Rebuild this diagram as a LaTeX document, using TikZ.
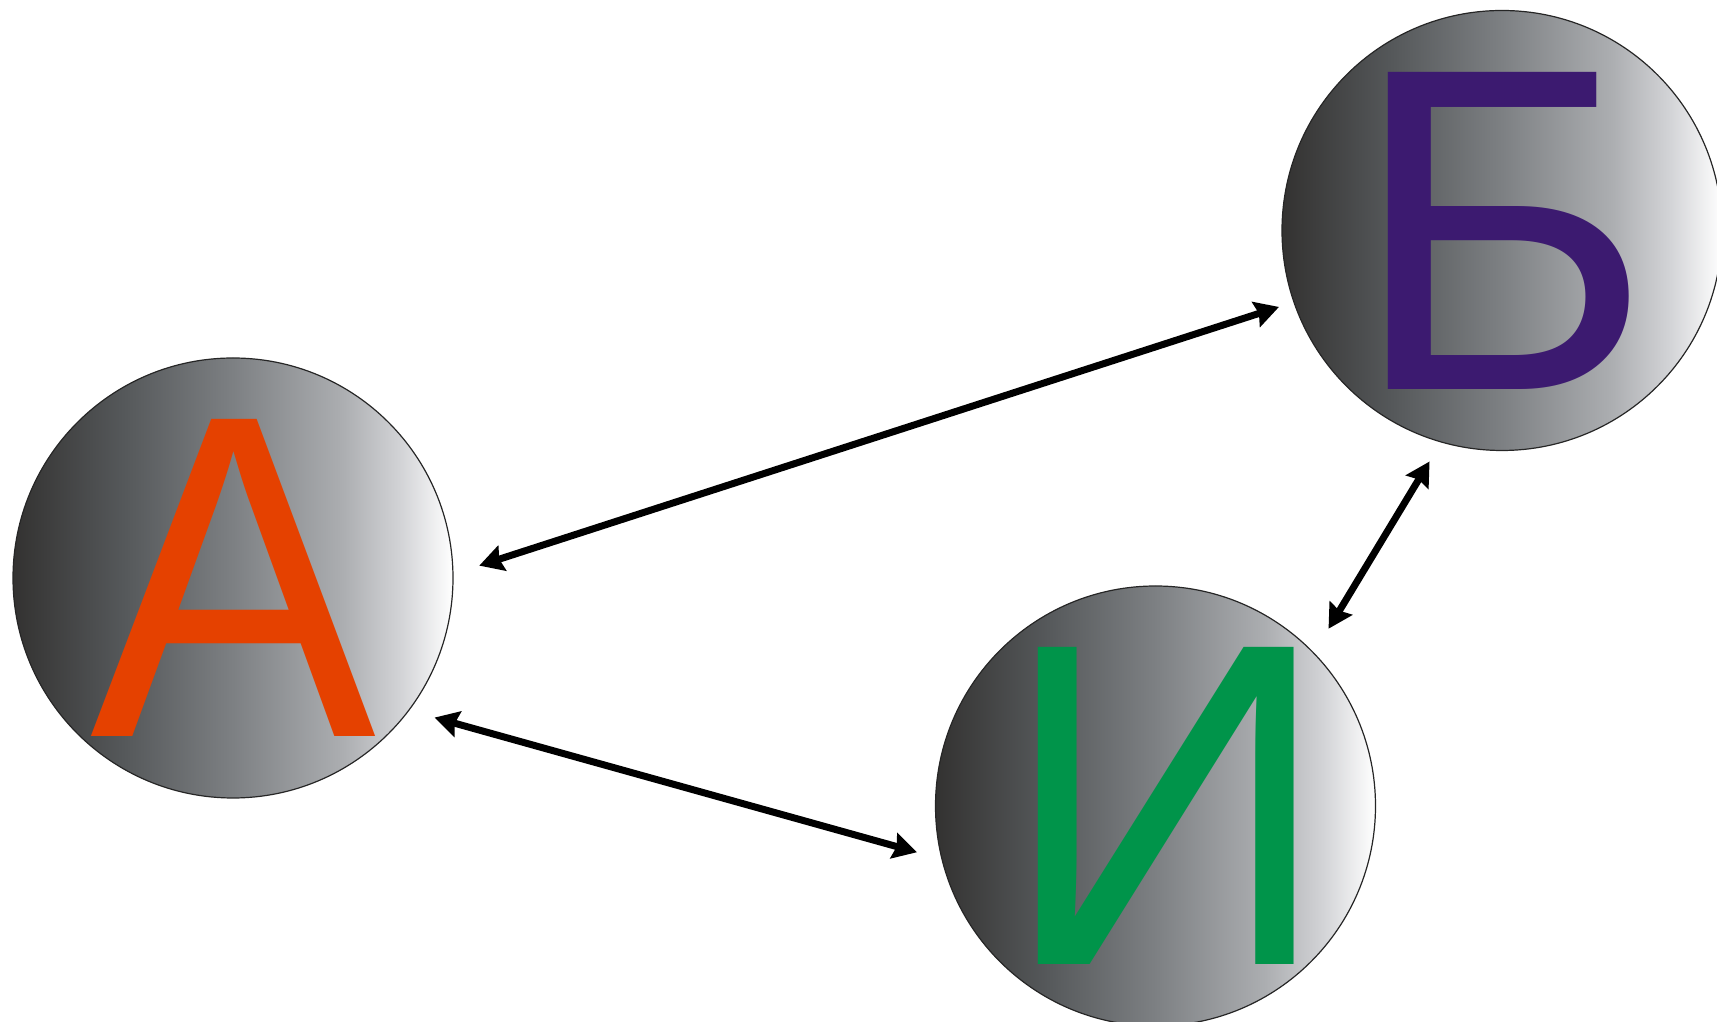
\documentclass[tikz,border=0pt]{standalone}
\usepackage{fontspec}
\setmainfont{Liberation Sans}
\usetikzlibrary{arrows.meta}
\definecolor{g0}{HTML}{333231}
\definecolor{g1}{HTML}{55585A}
\definecolor{g2}{HTML}{7D8083}
\definecolor{g3}{HTML}{ACAEB1}
\definecolor{g4}{HTML}{D2D3D6}
\definecolor{g5}{HTML}{FFFFFF}
\pgfdeclarehorizontalshading{ballshade}{100bp}{color(0bp)=(g0); color(25bp)=(g0); color(37.5bp)=(g1); color(50bp)=(g2); color(62.5bp)=(g3); color(69bp)=(g4); color(75bp)=(g5); color(100bp)=(g5)}
\definecolor{cA}{HTML}{E54100}
\definecolor{cB}{HTML}{3C1A70}
\definecolor{cI}{HTML}{00944A}
\begin{document}
\begin{tikzpicture}[x=1pt,y=1pt,
 ball/.style={circle, minimum size=440pt, inner sep=0pt, outer sep=0pt, draw=black!85, line width=1.2pt, shade, shading=ballshade},
 letter/.style={inner sep=0pt, outer sep=0pt, font=\fontsize{461}{461}\selectfont},
 link/.style={{Stealth[length=24pt,width=26pt,inset=3pt]}-{Stealth[length=24pt,width=26pt,inset=3pt]}, line width=7pt}]
\useasboundingbox (0,0) rectangle (1717,1022);
\clip (0,0) rectangle (1717,1022);
\node[ball] (A) at (233,444) {};
\node[ball] (B) at (1502,791.5) {};
\node[ball] (I) at (1155.5,216) {};
\node[letter, text=cA] (lA) at (A) {\scalebox{0.93}[1]{А}};
\node[letter, text=cB] (lB) at (B) {Б};
\node[letter, text=cI] (lI) at ([xshift=11pt]I.center) {И};
\draw[link, shorten <=27.65pt, shorten >=15.8pt] (A.1.02) -- (B.199.85);
\draw[link, shorten <=26.8pt, shorten >=25.95pt] (A.-37.22) -- (I.194.29);
\draw[link, shorten <=22.8pt, shorten >=28.55pt] (B.254.41) -- (I.44.83);
\end{tikzpicture}
\end{document}
